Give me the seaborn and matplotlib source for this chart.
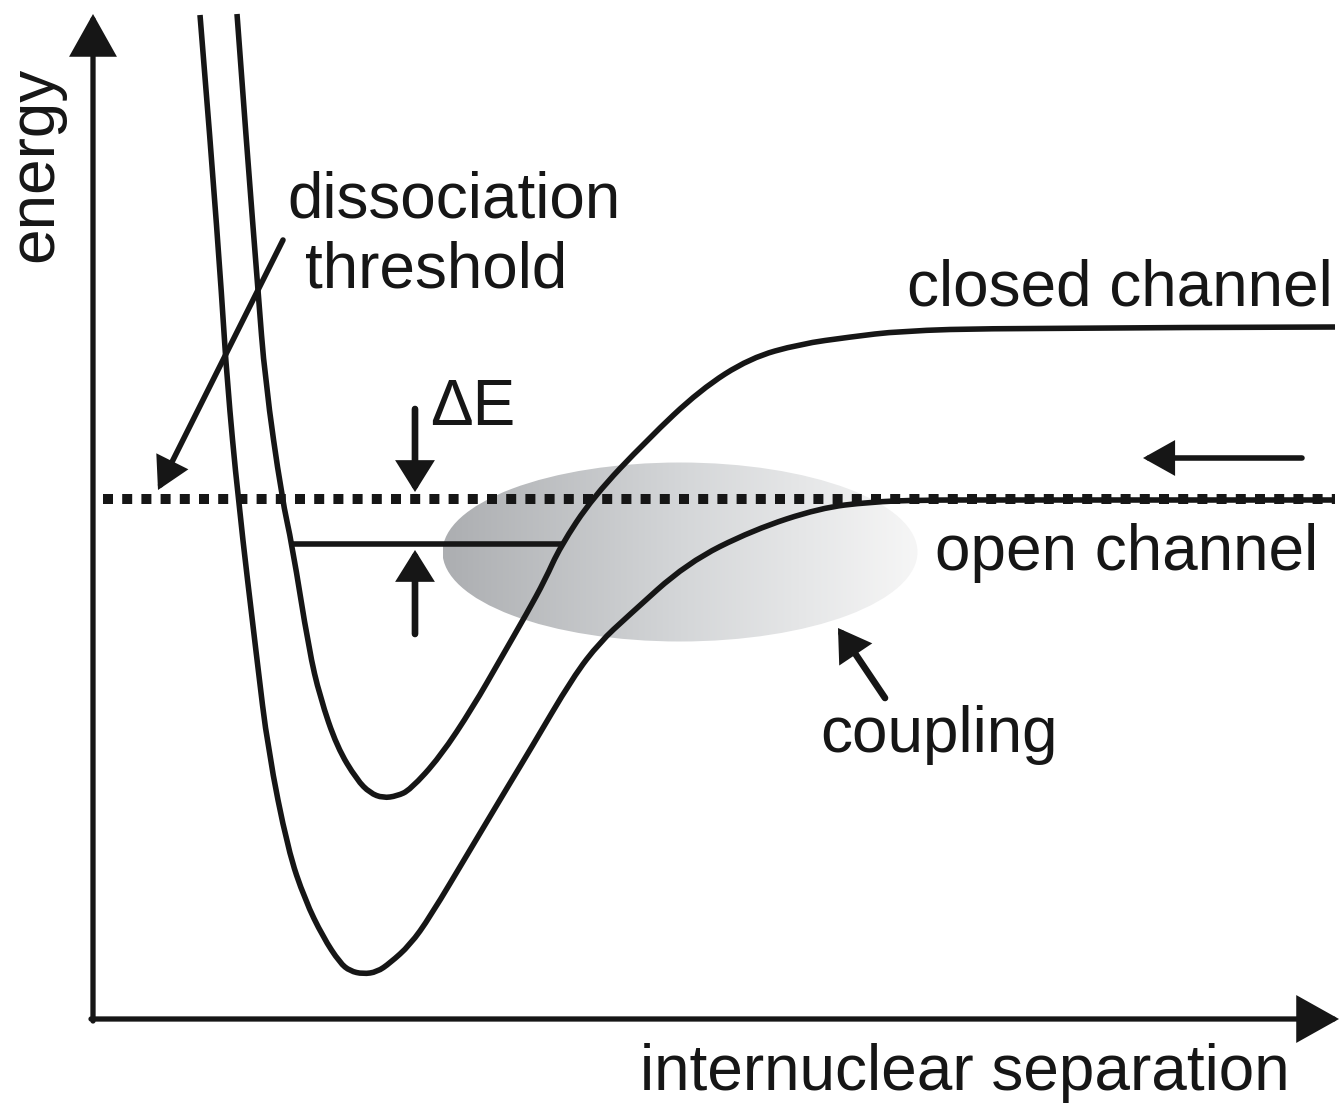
import numpy as np
import pandas as pd
import matplotlib
matplotlib.use("Agg")
import matplotlib.pyplot as plt
from matplotlib.patches import Ellipse, PathPatch
from matplotlib.path import Path
from matplotlib.colors import LinearSegmentedColormap
import seaborn as sns

# ---- schematic data (internuclear separation r, energy E; arbitrary units) ----
open_r = [200, 211, 222, 227, 238, 257, 268, 288, 305, 323, 340, 350, 363, 377,
          390, 410, 430, 470, 510, 530, 573, 600, 627, 687, 753, 820, 870, 920,
          1000, 1335]
open_E = [1089, 954, 804, 724, 605, 444, 354, 254, 204, 167, 141, 133, 130, 132,
          141, 159, 187, 254, 321, 354, 427, 462, 487, 541, 574, 596, 602, 604,
          604, 604]

closed_r = [237, 247, 258, 265, 282, 292, 309, 320, 337, 357, 370, 383, 397, 410,
            440, 473, 500, 527, 545, 560, 593, 647, 700, 750, 800, 850, 900, 1000,
            1335]
closed_E = [1090, 954, 814, 724, 605, 560, 454, 407, 357, 324, 311, 306, 308, 314,
            347, 397, 444, 491, 524, 557, 607, 664, 714, 746, 760, 767, 773, 776,
            777]

threshold_E = 605
threshold_r = [103, 1335]
bound_E = 560
bound_r = [292, 562]

labels = {
    "energy": "energy",
    "r": "internuclear separation",
    "closed": "closed channel",
    "open": "open channel",
    "coupling": "coupling",
    "dE": "ΔE",
}

INK = "#161616"

sns.set_theme(style="white")
plt.rcParams["font.family"] = ["Liberation Sans", "DejaVu Sans"]

fig = plt.figure(figsize=(13.39, 11.04), dpi=100)
ax = fig.add_axes([0, 0, 1, 1])
ax.axis("off")


def arrow(x0, y0, x1, y1, lw=3.6, hl=1.7, hw=0.95):
    ax.annotate("", xy=(x1, y1), xytext=(x0, y0),
                arrowprops=dict(arrowstyle=f"-|>,head_length={hl},head_width={hw}",
                                mutation_scale=10, lw=lw, color=INK,
                                shrinkA=0, shrinkB=0, joinstyle="miter"),
                zorder=6)


def smooth_curve(xs, ys, **kw):
    """Quadratic B-spline path using the given points as control points."""
    pts = np.column_stack([xs, ys]).astype(float)
    verts = [pts[0]]
    codes = [Path.MOVETO]
    n = len(pts)
    for i in range(1, n - 1):
        end = pts[i + 1] if i == n - 2 else (pts[i] + pts[i + 1]) / 2
        verts += [pts[i], end]
        codes += [Path.CURVE3, Path.CURVE3]
    patch = PathPatch(Path(verts, codes), facecolor="none", transform=ax.transData, **kw)
    ax.add_patch(patch)


# coupling region: grey ellipse with a left-to-right fade
cmap = LinearSegmentedColormap.from_list("fade", ["#acaeb1", "#d4d6d8", "#f6f6f6"])
ell = Ellipse((680, 552), 475, 179, transform=ax.transData, facecolor="none",
              edgecolor="none")
ax.add_patch(ell)
grad = np.linspace(0, 1, 256).reshape(1, -1)
im = ax.imshow(grad, cmap=cmap, extent=[443, 918, 462, 642], aspect="auto",
               zorder=1, interpolation="bicubic")
im.set_clip_path(ell)

# potential curves
smooth_curve(open_r, open_E, edgecolor=INK, lw=4.0, zorder=4, capstyle="butt")
smooth_curve(closed_r, closed_E, edgecolor=INK, lw=4.0, zorder=4, capstyle="butt")

# dissociation threshold (dotted) and bound state
lines = pd.concat([
    pd.DataFrame({"r": threshold_r, "E": [threshold_E] * 2, "kind": "threshold"}),
    pd.DataFrame({"r": bound_r, "E": [bound_E] * 2, "kind": "bound"}),
])
sns.lineplot(data=lines[lines.kind == "threshold"], x="r", y="E", color=INK,
             lw=7.2, linestyle=(0, (1, 0.92)), dash_capstyle="butt", ax=ax,
             zorder=5, legend=False)
sns.lineplot(data=lines[lines.kind == "bound"], x="r", y="E", color=INK,
             lw=4.0, solid_capstyle="butt", ax=ax, zorder=4, legend=False)

ax.set_xlim(0, 1339)
ax.set_ylim(0, 1104)
ax.axis("off")

# axes
arrow(93, 83, 93, 1090, lw=3.8, hl=2.5, hw=1.4)
arrow(91, 85, 1339, 85, lw=3.8, hl=2.5, hw=1.4)

# annotations
arrow(283, 864, 158, 614, lw=4.0)
arrow(415, 695, 415, 612, lw=4.8, hl=1.6, hw=1.0)
arrow(415, 470, 415, 554, lw=4.8, hl=1.6, hw=1.0)
arrow(1302, 646, 1143, 646, lw=4.0)
arrow(885, 406, 838, 476, lw=4.8, hl=1.6, hw=1.0)

fs = 46
ax.text(52, 940, labels["energy"], rotation=90, rotation_mode="anchor",
        ha="center", va="baseline", fontsize=fs, color=INK)
ax.text(1290, 14, labels["r"], ha="right", va="baseline", fontsize=fs, color=INK)
ax.text(1333, 799, labels["closed"], ha="right", va="baseline", fontsize=fs, color=INK)
ax.text(1318, 534, labels["open"], ha="right", va="baseline", fontsize=fs, color=INK)
ax.text(820, 352, labels["coupling"], ha="left", va="baseline", fontsize=fs, color=INK)
ax.text(287, 887, "dissociation", ha="left", va="baseline", fontsize=fs, color=INK)
ax.text(305, 817, "threshold", ha="left", va="baseline", fontsize=fs, color=INK)
ax.text(430, 679, labels["dE"], ha="left", va="baseline", fontsize=fs, color=INK)

fig.savefig("out.png", dpi=100, facecolor="white")
